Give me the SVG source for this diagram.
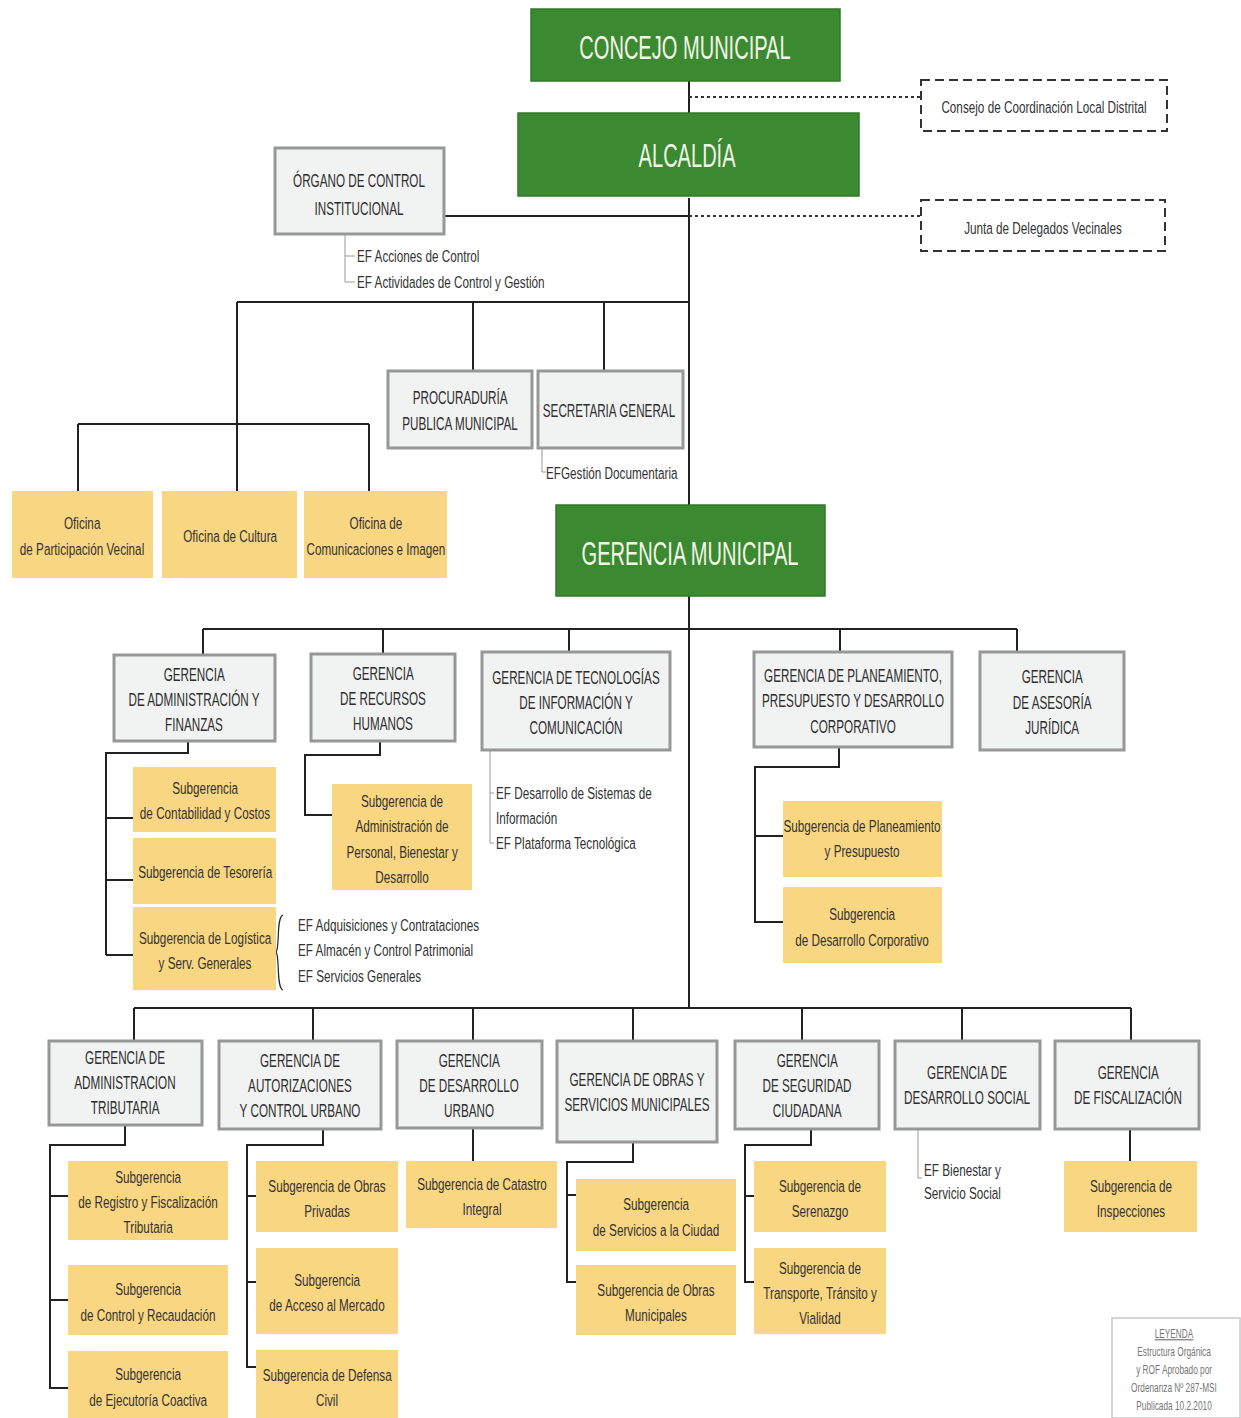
<svg xmlns="http://www.w3.org/2000/svg" width="1241" height="1418" viewBox="0 0 1241 1418">
<style>
text{font-family:"Liberation Sans",Arial,sans-serif;transform-box:fill-box;}
.gt,.bt,.yt,.lg,.ct{transform-origin:center;}
.ef{transform-origin:left center;}
.g{fill:#3b8a31;stroke:#2f7a27;stroke-width:1.5}
.gt{fill:#f4f4e8;font-size:34px;text-anchor:middle;transform:scaleX(0.59)}
.b{fill:#f1f2f2;stroke:#979797;stroke-width:3}
.bt{fill:#2e2e2e;font-size:18px;text-anchor:middle;transform:scaleX(0.65)}
.y{fill:#f9d681}
.yt{fill:#333;font-size:17px;text-anchor:middle;transform:scaleX(0.69)}
.ef{fill:#333;font-size:17px;transform:scaleX(0.69)}
.ct{fill:#333;font-size:17px;text-anchor:middle;transform:scaleX(0.69)}
.ln{fill:none;stroke:#222;stroke-width:2}
.th{fill:none;stroke:#999;stroke-width:1}
.dot{fill:none;stroke:#333;stroke-width:2;stroke-dasharray:3 3}
.dash{fill:#fff;stroke:#333;stroke-width:2;stroke-dasharray:9 5}
.lg{fill:#777;font-size:12px;text-anchor:middle;transform:scaleX(0.69)}
</style>
<rect width="1241" height="1418" fill="#fff"/>
<g id="connectors">
<path class="ln" d="M689 81V113M689 198V1008"/>
<path class="dot" d="M689 97H920M689 216H920"/>
<path class="ln" d="M444 216H689"/>
<path class="th" d="M345 234V282H355M345 256H355"/>
<path class="ln" d="M237 302H689M237 302V424M473 302V372M604 302V372M78 424H369M78 424V491M237 424V491M369 424V491"/>
<path class="th" d="M542 448V472H546"/>
<path class="ln" d="M203 629H1017M203 629V655M383 629V655M569 629V652M840 629V652M1017 629V652"/>
<path class="ln" d="M188 741V753H106V955M106 818H133M106 880H133M106 955H133"/>
<path class="ln" d="M283 915C276 917 280 948 276 952C280 956 276 988 283 990" style="stroke-width:1.2"/>
<path class="ln" d="M380 741V755H305V815H332"/>
<path class="th" d="M490 750V843H494M490 793H494"/>
<path class="ln" d="M839 747V767H755V922H783M755 836H783"/>
<path class="ln" d="M134 1008H1131M134 1008V1041M313 1008V1041M473 1008V1041M633 1008V1041M802 1008V1041M962 1008V1041M1131 1008V1041"/>
<path class="ln" d="M125 1125V1145H50V1388H68M50 1196H68M50 1300H68"/>
<path class="ln" d="M323 1129V1145H247V1367H256M247 1196H256M247 1282H256"/>
<path class="ln" d="M473 1128V1161"/>
<path class="ln" d="M633 1142V1162H567V1282H576M567 1195H576"/>
<path class="ln" d="M811 1129V1145H745V1282H754M745 1196H754"/>
<path class="th" d="M918 1129V1178H922"/>
<path class="ln" d="M1130 1129V1161"/>
</g>
<g id="concejo"><rect class="g" x="531" y="9" width="309" height="72"/><text class="gt" x="685" y="59">CONCEJO MUNICIPAL</text></g>
<g id="alcaldia"><rect class="g" x="518" y="113" width="341" height="83"/><text class="gt" x="687" y="167">ALCALDÍA</text></g>
<g id="consejo-coord"><rect class="dash" x="921" y="80" width="246" height="51"/><text class="ct" x="1044" y="113">Consejo de Coordinación Local Distrital</text></g>
<g id="junta"><rect class="dash" x="921" y="200" width="244" height="51"/><text class="ct" x="1043" y="234">Junta de Delegados Vecinales</text></g>
<g id="organo"><rect class="b" x="275" y="148" width="169" height="86"/><text class="bt" x="359" y="187">ÓRGANO  DE CONTROL</text><text class="bt" x="359" y="215">INSTITUCIONAL</text>
<text class="ef" x="357" y="262">EF Acciones de Control</text><text class="ef" x="357" y="288">EF Actividades de Control y Gestión</text></g>
<g id="of-participacion"><rect class="y" x="12" y="491" width="141" height="87"/><text class="yt" x="82" y="529">Oficina</text><text class="yt" x="82" y="555">de Participación Vecinal</text></g>
<g id="of-cultura"><rect class="y" x="162" y="491" width="135" height="87"/><text class="yt" x="230" y="542">Oficina de Cultura</text></g>
<g id="of-comunicaciones"><rect class="y" x="304" y="491" width="143" height="87"/><text class="yt" x="376" y="529">Oficina de</text><text class="yt" x="376" y="555">Comunicaciones e Imagen</text></g>
<g id="procuraduria"><rect class="b" x="388" y="371" width="144" height="77"/><text class="bt" x="460" y="404">PROCURADURÍA</text><text class="bt" x="460" y="430">PUBLICA  MUNICIPAL</text></g>
<g id="secretaria"><rect class="b" x="538" y="371" width="145" height="77"/><text class="bt" x="609" y="417">SECRETARIA GENERAL</text>
<text class="ef" x="546" y="479">EFGestión Documentaria</text></g>
<g id="gerencia-municipal"><rect class="g" x="556" y="505" width="269" height="91"/><text class="gt" x="690" y="565">GERENCIA MUNICIPAL</text></g>
<g id="g-adm-finanzas"><rect class="b" x="114" y="655" width="161" height="86"/><text class="bt" x="194" y="681">GERENCIA</text><text class="bt" x="194" y="706">DE ADMINISTRACIÓN  Y</text><text class="bt" x="194" y="731">FINANZAS</text></g>
<g id="sg-contabilidad"><rect class="y" x="133" y="767" width="143" height="65"/><text class="yt" x="205" y="794">Subgerencia</text><text class="yt" x="205" y="819">de Contabilidad y Costos</text></g>
<g id="sg-tesoreria"><rect class="y" x="133" y="838" width="143" height="66"/><text class="yt" x="205" y="878">Subgerencia  de Tesorería</text></g>
<g id="sg-logistica"><rect class="y" x="133" y="907" width="143" height="83"/><text class="yt" x="205" y="944">Subgerencia de Logística</text><text class="yt" x="205" y="969">y Serv. Generales</text>
<text class="ef" x="298" y="931">EF Adquisiciones y Contrataciones</text><text class="ef" x="298" y="956">EF Almacén y Control Patrimonial</text><text class="ef" x="298" y="982">EF Servicios Generales</text></g>
<g id="g-rrhh"><rect class="b" x="311" y="654" width="144" height="87"/><text class="bt" x="383" y="680">GERENCIA</text><text class="bt" x="383" y="705">DE RECURSOS</text><text class="bt" x="383" y="730">HUMANOS</text></g>
<g id="sg-personal"><rect class="y" x="332" y="784" width="140" height="106"/><text class="yt" x="402" y="807">Subgerencia de</text><text class="yt" x="402" y="832">Administración de</text><text class="yt" x="402" y="858">Personal, Bienestar y</text><text class="yt" x="402" y="883">Desarrollo</text></g>
<g id="g-tic"><rect class="b" x="482" y="652" width="188" height="98"/><text class="bt" x="576" y="684">GERENCIA DE TECNOLOGÍAS</text><text class="bt" x="576" y="709">DE INFORMACIÓN Y</text><text class="bt" x="576" y="734">COMUNICACIÓN</text>
<text class="ef" x="496" y="799">EF Desarrollo de Sistemas de</text><text class="ef" x="496" y="824">Información</text><text class="ef" x="496" y="849">EF Plataforma Tecnológica</text></g>
<g id="g-planeamiento"><rect class="b" x="754" y="652" width="198" height="95"/><text class="bt" x="853" y="682">GERENCIA DE PLANEAMIENTO,</text><text class="bt" x="853" y="707">PRESUPUESTO Y DESARROLLO</text><text class="bt" x="853" y="733">CORPORATIVO</text></g>
<g id="sg-planeamiento"><rect class="y" x="783" y="801" width="159" height="76"/><text class="yt" x="862" y="832">Subgerencia de Planeamiento</text><text class="yt" x="862" y="857">y  Presupuesto</text></g>
<g id="sg-corporativo"><rect class="y" x="783" y="887" width="159" height="76"/><text class="yt" x="862" y="920">Subgerencia</text><text class="yt" x="862" y="946">de Desarrollo Corporativo</text></g>
<g id="g-asesoria"><rect class="b" x="980" y="652" width="144" height="98"/><text class="bt" x="1052" y="683">GERENCIA</text><text class="bt" x="1052" y="709">DE  ASESORÍA</text><text class="bt" x="1052" y="734">JURÍDICA</text></g>
<g id="g-tributaria"><rect class="b" x="49" y="1041" width="153" height="84"/><text class="bt" x="125" y="1064">GERENCIA DE</text><text class="bt" x="125" y="1089">ADMINISTRACION</text><text class="bt" x="125" y="1114">TRIBUTARIA</text></g>
<g id="sg-registro"><rect class="y" x="68" y="1161" width="160" height="79"/><text class="yt" x="148" y="1183">Subgerencia</text><text class="yt" x="148" y="1208">de Registro y Fiscalización</text><text class="yt" x="148" y="1233">Tributaria</text></g>
<g id="sg-recaudacion"><rect class="y" x="68" y="1265" width="160" height="70"/><text class="yt" x="148" y="1295">Subgerencia</text><text class="yt" x="148" y="1321">de Control y  Recaudación</text></g>
<g id="sg-coactiva"><rect class="y" x="68" y="1351" width="160" height="67"/><text class="yt" x="148" y="1380">Subgerencia</text><text class="yt" x="148" y="1406">de Ejecutoría Coactiva</text></g>
<g id="g-autorizaciones"><rect class="b" x="219" y="1041" width="162" height="88"/><text class="bt" x="300" y="1067">GERENCIA DE</text><text class="bt" x="300" y="1092">AUTORIZACIONES</text><text class="bt" x="300" y="1117">Y CONTROL URBANO</text></g>
<g id="sg-obras-privadas"><rect class="y" x="256" y="1161" width="142" height="71"/><text class="yt" x="327" y="1192">Subgerencia de Obras</text><text class="yt" x="327" y="1217">Privadas</text></g>
<g id="sg-mercado"><rect class="y" x="256" y="1248" width="142" height="86"/><text class="yt" x="327" y="1286">Subgerencia</text><text class="yt" x="327" y="1311">de Acceso al Mercado</text></g>
<g id="sg-defensa"><rect class="y" x="256" y="1350" width="142" height="68"/><text class="yt" x="327" y="1381">Subgerencia de Defensa</text><text class="yt" x="327" y="1406">Civil</text></g>
<g id="g-urbano"><rect class="b" x="397" y="1041" width="145" height="87"/><text class="bt" x="469" y="1067">GERENCIA</text><text class="bt" x="469" y="1092">DE DESARROLLO</text><text class="bt" x="469" y="1117">URBANO</text></g>
<g id="sg-catastro"><rect class="y" x="406" y="1161" width="151" height="67"/><text class="yt" x="482" y="1190">Subgerencia de Catastro</text><text class="yt" x="482" y="1215">Integral</text></g>
<g id="g-obras"><rect class="b" x="557" y="1041" width="160" height="101"/><text class="bt" x="637" y="1086">GERENCIA DE OBRAS Y</text><text class="bt" x="637" y="1111">SERVICIOS MUNICIPALES</text></g>
<g id="sg-servicios"><rect class="y" x="576" y="1179" width="160" height="72"/><text class="yt" x="656" y="1210">Subgerencia</text><text class="yt" x="656" y="1236">de Servicios a la Ciudad</text></g>
<g id="sg-obras-mun"><rect class="y" x="576" y="1265" width="160" height="70"/><text class="yt" x="656" y="1296">Subgerencia de Obras</text><text class="yt" x="656" y="1321">Municipales</text></g>
<g id="g-seguridad"><rect class="b" x="735" y="1041" width="144" height="88"/><text class="bt" x="807" y="1067">GERENCIA</text><text class="bt" x="807" y="1092">DE SEGURIDAD</text><text class="bt" x="807" y="1117">CIUDADANA</text></g>
<g id="sg-serenazgo"><rect class="y" x="754" y="1161" width="132" height="71"/><text class="yt" x="820" y="1192">Subgerencia de</text><text class="yt" x="820" y="1217">Serenazgo</text></g>
<g id="sg-transporte"><rect class="y" x="754" y="1248" width="132" height="86"/><text class="yt" x="820" y="1274">Subgerencia de</text><text class="yt" x="820" y="1299">Transporte, Tránsito y</text><text class="yt" x="820" y="1324">Vialidad</text></g>
<g id="g-social"><rect class="b" x="895" y="1041" width="145" height="88"/><text class="bt" x="967" y="1079">GERENCIA DE</text><text class="bt" x="967" y="1104">DESARROLLO SOCIAL</text>
<text class="ef" x="924" y="1176">EF Bienestar y</text><text class="ef" x="924" y="1199">Servicio Social</text></g>
<g id="g-fiscalizacion"><rect class="b" x="1055" y="1041" width="144" height="88"/><text class="bt" x="1128" y="1079">GERENCIA</text><text class="bt" x="1128" y="1104">DE FISCALIZACIÓN</text></g>
<g id="sg-inspecciones"><rect class="y" x="1064" y="1161" width="133" height="71"/><text class="yt" x="1131" y="1192">Subgerencia de</text><text class="yt" x="1131" y="1217">Inspecciones</text></g>
<g id="leyenda"><rect x="1112" y="1318" width="128" height="100" fill="#fff" stroke="#c8c8c8" stroke-width="1.5"/>
<text class="lg" x="1174" y="1338" text-decoration="underline">LEYENDA</text><text class="lg" x="1174" y="1356">Estructura Orgánica</text><text class="lg" x="1174" y="1374">y ROF Aprobado por</text><text class="lg" x="1174" y="1392">Ordenanza Nº 287-MSI</text><text class="lg" x="1174" y="1410">Publicada 10.2.2010</text></g>
</svg>
